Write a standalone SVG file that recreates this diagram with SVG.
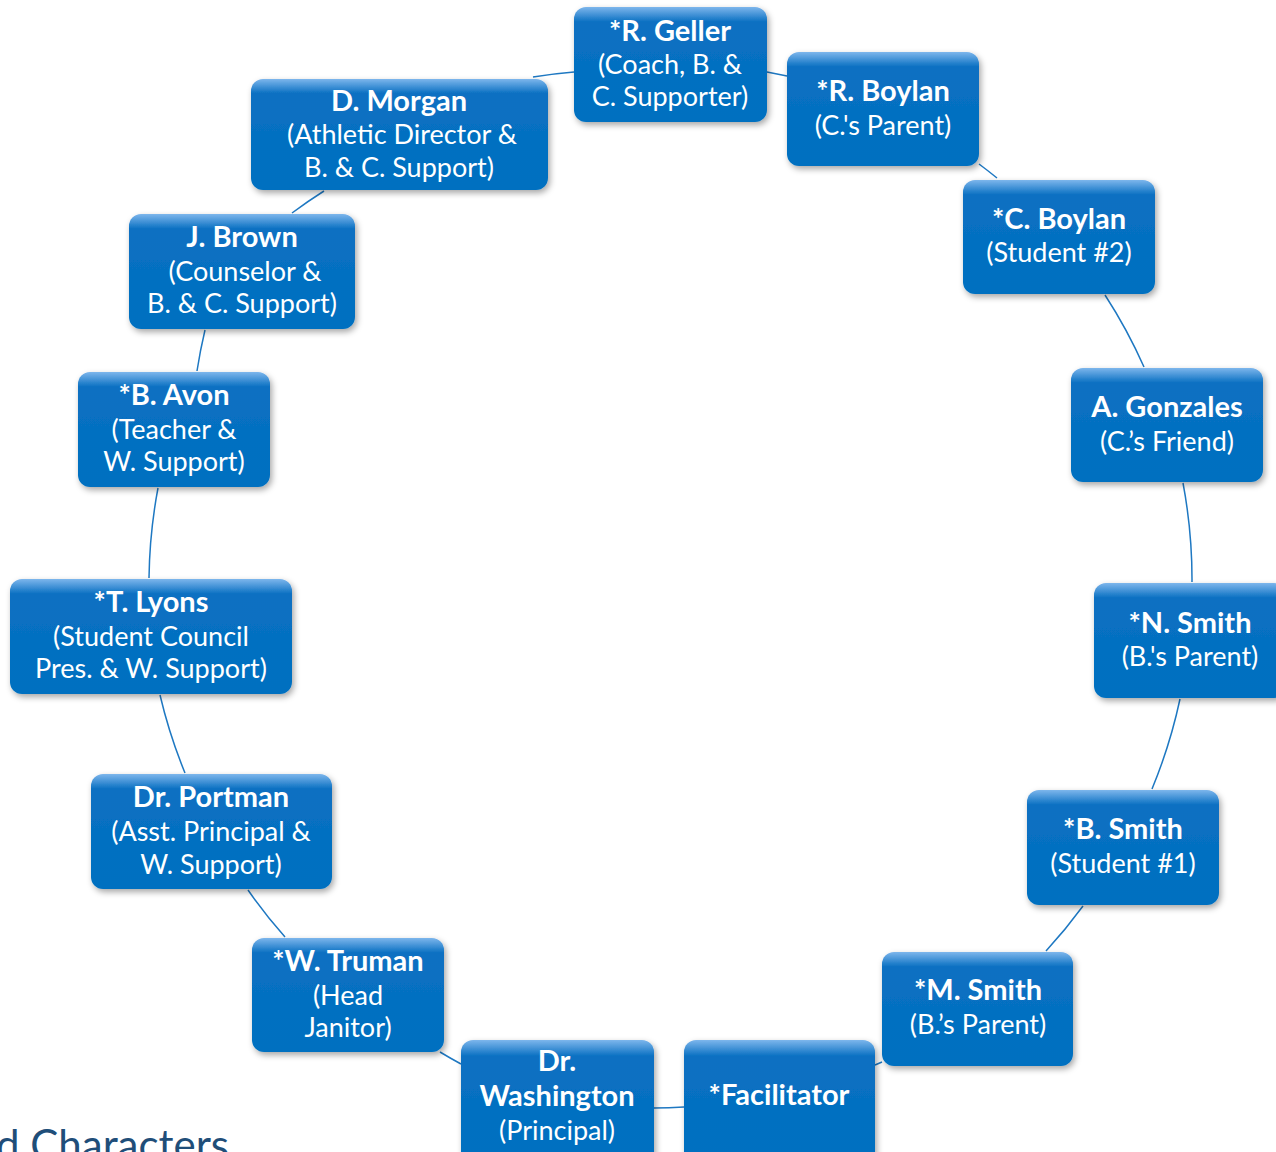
<svg xmlns="http://www.w3.org/2000/svg" width="1276" height="1152" viewBox="0 0 1276 1152">
<style>
.box{fill:url(#g);filter:url(#sh)}
.t{font-family:Lato,"Noto Sans",sans-serif;fill:#fff;text-anchor:middle}
.b{font-weight:bold;font-size:29px}
.r{font-size:27px}
.c{fill:none;stroke:#1E78C2;stroke-width:1.5}
</style>
<defs>
<linearGradient id="g" x1="0" y1="0" x2="0" y2="1">
<stop offset="0" stop-color="#7DB6EC"/>
<stop offset="0.13" stop-color="#0A70C2"/>
<stop offset="1" stop-color="#0070C0"/>
</linearGradient>
<filter id="sh" x="-10%" y="-10%" width="130%" height="140%">
<feDropShadow dx="2" dy="3" stdDeviation="3" flood-color="#000" flood-opacity="0.35"/>
</filter>
</defs>
<rect width="1276" height="1152" fill="#fff"/>
<g id="connectors">
<path class="c" d="M767,72 A522,522 0 0 1 787,76"/>
<path class="c" d="M979,164 A522,522 0 0 1 997,178"/>
<path class="c" d="M1105,295 A522,522 0 0 1 1144,367"/>
<path class="c" d="M1183,483 A522,522 0 0 1 1192,582"/>
<path class="c" d="M1180,699 A522,522 0 0 1 1152,789"/>
<path class="c" d="M1083,906 A522,522 0 0 1 1046,951"/>
<path class="c" d="M882,1062 A522,522 0 0 1 875,1065"/>
<path class="c" d="M684,1107 A522,522 0 0 1 654,1108"/>
<path class="c" d="M461,1064 A522,522 0 0 1 440,1052"/>
<path class="c" d="M285,937 A522,522 0 0 1 248,890"/>
<path class="c" d="M185,773 A522,522 0 0 1 160,695"/>
<path class="c" d="M149,578 A522,522 0 0 1 158,488"/>
<path class="c" d="M197,371 A522,522 0 0 1 205,330"/>
<path class="c" d="M292,213 A522,522 0 0 1 324,191"/>
<path class="c" d="M533,77 A522,522 0 0 1 574,72"/>
</g>
<g id="geller"><rect class="box" x="574" y="7" width="193" height="115" rx="12"/>
<text class="t b" x="670" y="41">*R. Geller</text><text class="t r" x="670" y="74">(Coach, B. &amp;</text><text class="t r" x="670" y="106">C. Supporter)</text></g>
<g id="rboylan"><rect class="box" x="787" y="52" width="192" height="114" rx="12"/>
<text class="t b" x="883" y="101">*R. Boylan</text><text class="t r" x="883" y="135">(C.'s Parent)</text></g>
<g id="morgan"><rect class="box" x="251" y="79" width="297" height="111" rx="12"/>
<text class="t b" x="399" y="111">D. Morgan</text><text class="t r" x="402" y="144">(Athletic Director &amp;</text><text class="t r" x="399" y="177">B. &amp; C. Support)</text></g>
<g id="cboylan"><rect class="box" x="963" y="180" width="192" height="114" rx="12"/>
<text class="t b" x="1059" y="229">*C. Boylan</text><text class="t r" x="1059" y="262">(Student #2)</text></g>
<g id="brown"><rect class="box" x="129" y="214" width="226" height="115" rx="12"/>
<text class="t b" x="242" y="247">J. Brown</text><text class="t r" x="245" y="281">(Counselor &amp;</text><text class="t r" x="242" y="313">B. &amp; C. Support)</text></g>
<g id="gonzales"><rect class="box" x="1071" y="368" width="192" height="114" rx="12"/>
<text class="t b" x="1167" y="417">A. Gonzales</text><text class="t r" x="1167" y="451">(C.’s Friend)</text></g>
<g id="avon"><rect class="box" x="78" y="372" width="192" height="115" rx="12"/>
<text class="t b" x="174" y="405">*B. Avon</text><text class="t r" x="174" y="439">(Teacher &amp;</text><text class="t r" x="174" y="471">W. Support)</text></g>
<g id="nsmith"><rect class="box" x="1094" y="583" width="192" height="115" rx="12"/>
<text class="t b" x="1190" y="633">*N. Smith</text><text class="t r" x="1190" y="666">(B.'s Parent)</text></g>
<g id="lyons"><rect class="box" x="10" y="579" width="282" height="115" rx="12"/>
<text class="t b" x="151" y="612">*T. Lyons</text><text class="t r" x="151" y="646">(Student Council</text><text class="t r" x="151" y="678">Pres. &amp; W. Support)</text></g>
<g id="bsmith"><rect class="box" x="1027" y="790" width="192" height="115" rx="12"/>
<text class="t b" x="1123" y="839">*B. Smith</text><text class="t r" x="1123" y="873">(Student #1)</text></g>
<g id="portman"><rect class="box" x="91" y="774" width="241" height="115" rx="12"/>
<text class="t b" x="211" y="807">Dr. Portman</text><text class="t r" x="211" y="841">(Asst. Principal &amp;</text><text class="t r" x="211" y="874">W. Support)</text></g>
<g id="msmith"><rect class="box" x="882" y="952" width="191" height="114" rx="12"/>
<text class="t b" x="978" y="1000">*M. Smith</text><text class="t r" x="978" y="1034">(B.’s Parent)</text></g>
<g id="truman"><rect class="box" x="252" y="938" width="192" height="114" rx="12"/>
<text class="t b" x="348" y="971">*W. Truman</text><text class="t r" x="348" y="1005">(Head</text><text class="t r" x="348" y="1037">Janitor)</text></g>
<g id="washington"><rect class="box" x="461" y="1040" width="193" height="125" rx="12"/>
<text class="t b" x="557" y="1071">Dr.</text><text class="t b" x="557" y="1106">Washington</text><text class="t r" x="557" y="1140">(Principal)</text></g>
<g id="facilitator"><rect class="box" x="684" y="1040" width="191" height="125" rx="12"/>
<text class="t b" x="779" y="1105">*Facilitator</text></g>
<text x="-4" y="1160" font-family="Lato,'Noto Sans',sans-serif" font-size="42" fill="#1F4E79">d Characters</text>
</svg>
